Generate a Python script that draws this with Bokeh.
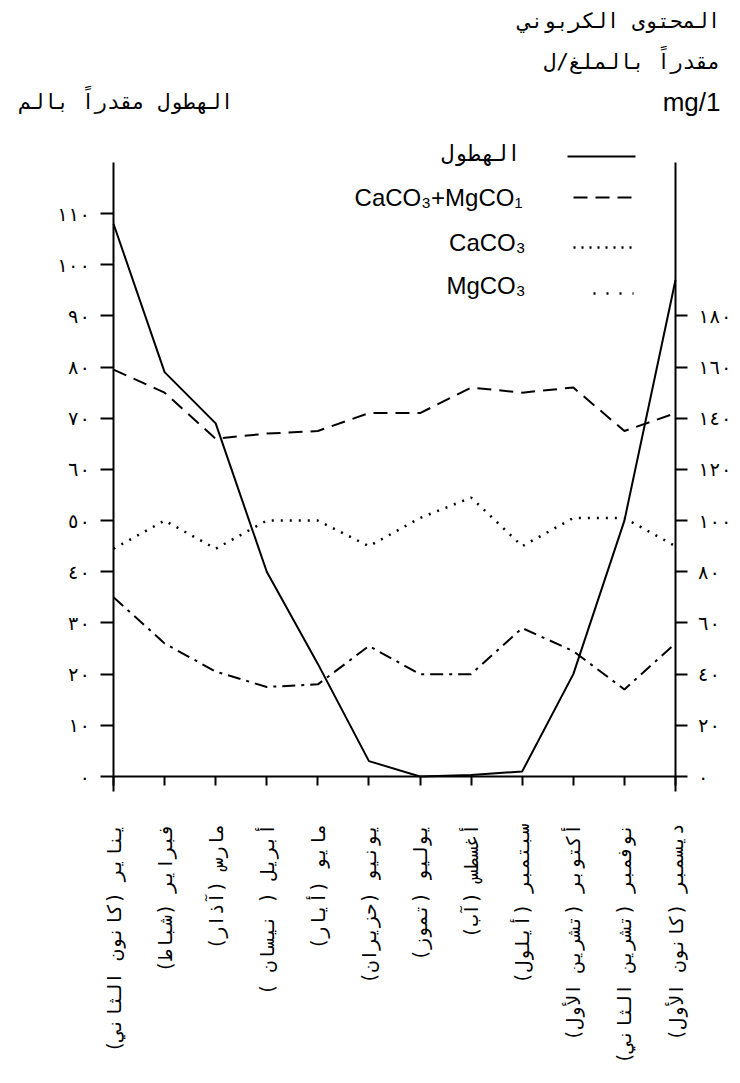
import math
from bokeh.plotting import figure
from bokeh.models import Range1d, LinearAxis, FixedTicker, Label, Arrow
from bokeh.embed import file_html
from bokeh.resources import INLINE

RLM = "\u200f"

# ---------------- data ----------------
months = [
    "يناير (كانون الثاني)",
    "فبراير (شباط)",
    "مارس (آذار)",
    "أبريل ( نيسان )",
    "مايو (أيار)",
    "يونيو (حزيران)",
    "يوليو (تموز)",
    "أغسطس (آب)",
    "سبتمبر (أيلول)",
    "أكتوبر (تشرين الأول)",
    "نوفمبر (تشرين الثاني)",
    "ديسمبر (كانون الأول)",
]
precipitation_mm = [108, 79, 69, 40, 22, 3, 0, 0.3, 1, 20, 50, 97]
caco3_mgco3 = [159, 150, 132, 134, 135, 142, 142, 152, 150, 152, 135, 142]
caco3 = [89, 100, 89, 100, 100, 90, 101, 109, 90, 101, 101, 90]
mgco3 = [70, 52, 41, 35, 36, 51, 40, 40, 58, 49, 34, 52]

left_ticks = [0, 10, 20, 30, 40, 50, 60, 70, 80, 90, 100, 110]
left_tick_labels = ["٠", "١٠", "٢٠", "٣٠", "٤٠", "٥٠", "٦٠", "٧٠", "٨٠", "٩٠", "١٠٠", "١١٠"]
right_ticks = [0, 20, 40, 60, 80, 100, 120, 140, 160, 180]
right_tick_labels = ["٠", "٢٠", "٤٠", "٦٠", "٨٠", "١٠٠", "١٢٠", "١٤٠", "١٦٠", "١٨٠"]

title_lines = ["المحتوى الكربوني", "مقدراً بالملغ/ل", "mg/1"]
left_title = "الهطول مقدراً بالم"
legend_labels = ["الهطول", "CaCO₃+MgCO₁", "CaCO₃", "MgCO₃"]

# ---------------- layout (pixels) ----------------
W, H = 740, 1083
AX_L, AX_R, AX_TOP, AX_ZERO = 113, 675, 162, 776
PX_PER_MM = (776 - 213) / 110.0
ARABIC = "DejaVu Sans Mono"
LATIN = "Liberation Sans"

n = len(months) - 1
x_idx = list(range(len(months)))
ppx = (AX_R - AX_L) / n
ppy = PX_PER_MM


def dx(px):
    return (px - AX_L) / ppx


def dy(py):
    return (AX_ZERO - py) / ppy


left_top = dy(AX_TOP)
p = figure(
    width=W, height=H,
    x_range=Range1d(dx(0), dx(W)), y_range=Range1d(dy(H), dy(0)),
    output_backend="svg", toolbar_location=None,
    min_border=0, min_border_left=0, min_border_right=0,
    min_border_top=0, min_border_bottom=0,
)
p.extra_y_ranges = {"mg": Range1d(2 * dy(H), 2 * dy(0))}
p.grid.visible = False
p.outline_line_color = None
p.background_fill_color = "white"
p.border_fill_color = "white"

# x axis
xa = p.xaxis[0]
xa.fixed_location = 0
xa.bounds = (0, n)
xa.ticker = FixedTicker(ticks=x_idx)
xa.major_label_overrides = {i: m + RLM for i, m in enumerate(months)}
xa.major_label_orientation = math.pi / 2
xa.major_label_text_font = ARABIC
xa.major_label_text_font_size = "19px"
xa.major_label_text_color = "black"
xa.major_label_standoff = 38
xa.major_tick_out = 9
xa.major_tick_in = 0
xa.minor_tick_line_color = None
xa.axis_line_width = 2
xa.major_tick_line_width = 2
xa.axis_line_color = "black"
xa.major_tick_line_color = "black"

# left axis (precipitation, mm)
ya = p.yaxis[0]
ya.fixed_location = 0
ya.bounds = (-3, left_top)
ya.ticker = FixedTicker(ticks=left_ticks)
ya.major_label_overrides = {t: l for t, l in zip(left_ticks, left_tick_labels)}
ya.major_label_text_font = ARABIC
ya.major_label_text_font_size = "19px"
ya.major_label_text_color = "black"
ya.major_label_standoff = 10
ya.major_tick_out = 13
ya.major_tick_in = 0
ya.minor_tick_line_color = None
ya.axis_line_width = 2
ya.major_tick_line_width = 2
ya.axis_line_color = "black"

# right axis (mg/l)
ra = LinearAxis(y_range_name="mg")
ra.fixed_location = n
ra.bounds = (-6, 2 * left_top)
ra.ticker = FixedTicker(ticks=right_ticks)
ra.major_label_overrides = {t: l for t, l in zip(right_ticks, right_tick_labels)}
ra.major_label_text_font = ARABIC
ra.major_label_text_font_size = "19px"
ra.major_label_text_color = "black"
ra.major_label_standoff = 10
ra.major_tick_out = 12
ra.major_tick_in = 0
ra.minor_tick_line_color = None
ra.axis_line_width = 2
ra.major_tick_line_width = 2
ra.axis_line_color = "black"
p.add_layout(ra, "right")

# ---------------- lines ----------------
p.line(x_idx, precipitation_mm, line_color="black", line_width=2)
p.line(x_idx, caco3_mgco3, y_range_name="mg", line_color="black", line_width=2, line_dash="14 8")
p.line(x_idx, caco3, y_range_name="mg", line_color="black", line_width=2.5, line_dash="2 7")
p.line(x_idx, mgco3, y_range_name="mg", line_color="black", line_width=2, line_dash="13 6 3 6")

# ---------------- titles ----------------
for txt, py, fnt, size in [
    (title_lines[0], 20, ARABIC, "21px"),
    (title_lines[1], 61, ARABIC, "21px"),
    (title_lines[2], 101, LATIN, "26px"),
]:
    p.add_layout(Label(x=dx(720), y=dy(py), text=txt, text_align="right",
                       text_baseline="middle", text_font=fnt,
                       text_font_size=size, text_color="black"))
p.add_layout(Label(x=dx(18), y=dy(101), text=left_title, text_align="left",
                   text_baseline="middle", text_font=ARABIC,
                   text_font_size="21px", text_color="black"))

# ---------------- legend ----------------
legend_rows = [
    (legend_labels[0], 520, 153, ARABIC, "22px", 567, 635, 156, None, 2),
    (legend_labels[1], 522, 197, LATIN, "24px", 573, 635, 197, "14 8", 2),
    (legend_labels[2], 525, 242, LATIN, "24px", 573, 633, 247, "2 6", 2.5),
    (legend_labels[3], 525, 285, LATIN, "24px", 593, 633, 293, "2 11", 2.5),
]
for txt, tx, ty, fnt, size, x0, x1, ly, dash, lw in legend_rows:
    p.add_layout(Label(x=dx(tx), y=dy(ty), text=txt, text_align="right",
                       text_baseline="middle", text_font=fnt,
                       text_font_size=size, text_color="black"))
    kw = dict(line_dash=dash) if dash else {}
    p.add_layout(Arrow(end=None, x_start=dx(x0), y_start=dy(ly), x_end=dx(x1), y_end=dy(ly),
                       line_color="black", line_width=lw, **kw))

open("out.html", "w").write(file_html(p, INLINE))
